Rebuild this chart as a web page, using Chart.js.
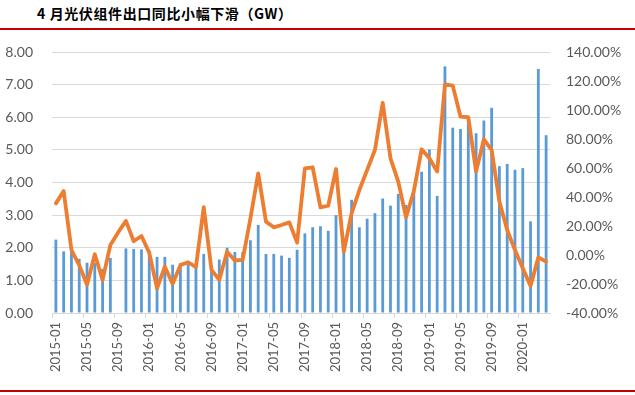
<!DOCTYPE html>
<html>
<head>
<meta charset="utf-8">
<script src="https://cdn.jsdelivr.net/npm/chart.js@4.4.1/dist/chart.umd.min.js"></script>
<style>
  html, body { margin: 0; padding: 0; background: #fff; }
  body { width: 635px; height: 395px; position: relative; overflow: hidden; }
  #title {
    position: absolute; left: 37px; top: 6px;
    font: bold 14px "Noto Sans CJK SC", sans-serif; letter-spacing: 0.6px;
    color: #000; line-height: 15px; white-space: nowrap;
  }
  .redline { position: absolute; left: 0; width: 635px; height: 2px; background: #c00000; }
  #wrap { position: absolute; left: 0; top: 0; width: 635px; height: 395px; }
</style>
</head>
<body>
<div id="title">4 月光伏组件出口同比小幅下滑（GW）</div>
<div class="redline" style="top:28px"></div>
<div id="wrap"><canvas id="chart"></canvas></div>
<div class="redline" style="top:390px"></div>
<script>
// months 2015-01 .. 2020-04
const months = [
  "2015-01","2015-02","2015-03","2015-04","2015-05","2015-06","2015-07","2015-08","2015-09","2015-10","2015-11","2015-12",
  "2016-01","2016-02","2016-03","2016-04","2016-05","2016-06","2016-07","2016-08","2016-09","2016-10","2016-11","2016-12",
  "2017-01","2017-02","2017-03","2017-04","2017-05","2017-06","2017-07","2017-08","2017-09","2017-10","2017-11","2017-12",
  "2018-01","2018-02","2018-03","2018-04","2018-05","2018-06","2018-07","2018-08","2018-09","2018-10","2018-11","2018-12",
  "2019-01","2019-02","2019-03","2019-04","2019-05","2019-06","2019-07","2019-08","2019-09","2019-10","2019-11","2019-12",
  "2020-01","2020-02","2020-03","2020-04"
];

// 组件出口量 (GW), left axis
const exportGW = [
  2.25, 1.89, 1.87, 1.66, 1.54, 1.53, 1.35, 1.69, null, 1.98, 1.96, 1.95,
  1.92, 1.72, 1.72, 1.48, 1.53, 1.50, 1.40, 1.81, 1.33, 1.64, 2.00, 1.87,
  1.86, 2.23, 2.70, 1.81, 1.81, 1.76, 1.69, 1.94, 2.44, 2.63, 2.66, 2.52,
  3.00, 1.95, 3.47, 2.63, 2.89, 3.06, 3.51, 3.29, 3.65, 3.31, 3.70, 4.33,
  5.01, 3.59, 7.56, 5.68, 5.64, 5.95, 5.51, 5.90, 6.29, 4.50, 4.57, 4.39,
  4.44, 2.81, 7.48, 5.45
];

// 同比 (%), right axis
const yoyPct = [
  35.6, 44.1, 3.4, -7.0, -20.5, 0.5, -17.2, 6.9, 15.6, 23.5, 9.5, 13.1,
  1.5, -23.0, -8.1, -20.0, -7.0, -5.0, -8.3, 33.0, -10.3, -17.2, 2.3, -3.8,
  -3.4, 25.3, 56.3, 23.0, 19.1, 20.7, 22.5, 8.5, 59.8, 60.5, 32.9, 34.0,
  59.3, 2.3, 28.7, 44.8, 58.6, 72.4, 105.0, 66.7, 50.6, 26.0, 44.0, 72.9,
  66.7, 57.5, 117.7, 116.8, 95.4, 95.0, 57.5, 79.8, 72.4, 36.8, 17.2, 3.4,
  -9.2, -21.4, -1.6, -4.6
];

const leftTicks = [0, 8, 1];      // min, max, step
const rightTicks = [-40, 140, 20];

const gray = "#d9d9d9";
const txt = "#595959";

new Chart(document.getElementById("chart"), {
  data: {
    labels: months,
    datasets: [
      {
        type: "line",
        label: "同比",
        data: yoyPct,
        yAxisID: "y1",
        borderColor: "#ed7d31",
        borderWidth: 3.8,
        borderJoinStyle: "round",
        borderCapStyle: "round",
        pointRadius: 0,
        tension: 0,
        order: 0
      },
      {
        type: "bar",
        label: "出口量",
        data: exportGW,
        yAxisID: "y",
        backgroundColor: "#5b9bd5",
        categoryPercentage: 1,
        barPercentage: 0.36,
        order: 1
      }
    ]
  },
  options: {
    responsive: true,
    maintainAspectRatio: false,
    animation: false,
    layout: { padding: { top: 52, left: 0, right: 0, bottom: 0 } },
    plugins: { legend: { display: false }, tooltip: { enabled: false } },
    scales: {
      x: {
        offset: true,
        grid: {
          offset: true,
          drawOnChartArea: false,
          tickLength: 5,
          color: (ctx) => (ctx.index % 4 === 0 ? gray : "rgba(0,0,0,0)")
        },
        border: { color: gray },
        ticks: {
          autoSkip: false,
          minRotation: 90,
          maxRotation: 90,
          padding: 4,
          color: txt,
          font: { family: "Lato", size: 13 },
          callback: function (v, i) { return i % 4 === 0 ? this.getLabelForValue(v) : ""; }
        },
        afterFit: (s) => { s.height = 82; }
      },
      y: {
        position: "left",
        min: leftTicks[0],
        max: leftTicks[1],
        grid: { color: gray, drawTicks: false },
        border: { display: false },
        ticks: {
          stepSize: leftTicks[2],
          padding: 19,
          color: txt,
          font: { family: "Lato", size: 14 },
          callback: (v) => v.toFixed(2)
        },
        afterFit: (s) => { s.width = 52; }
      },
      y1: {
        position: "right",
        min: rightTicks[0],
        max: rightTicks[1],
        grid: { drawOnChartArea: false, drawTicks: false },
        border: { display: false },
        ticks: {
          stepSize: rightTicks[2],
          padding: 16,
          color: txt,
          font: { family: "Lato", size: 14 },
          callback: (v) => v.toFixed(2) + "%"
        },
        afterFit: (s) => { s.width = 85; }
      }
    }
  }
});
</script>
</body>
</html>
